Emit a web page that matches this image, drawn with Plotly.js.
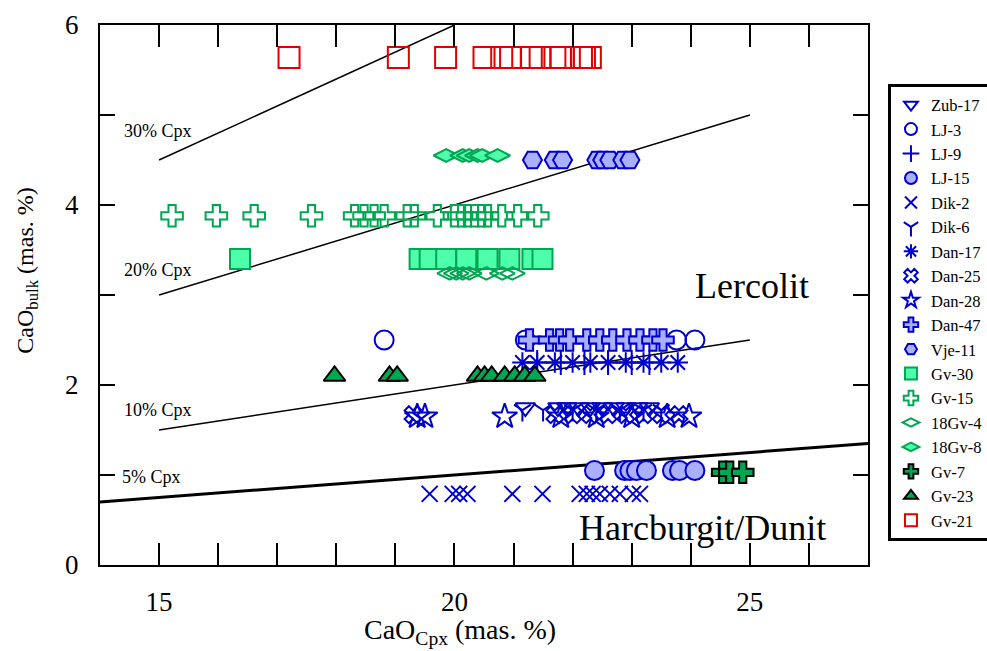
<!DOCTYPE html>
<html>
<head>
<meta charset="utf-8">
<script src="https://cdn.plot.ly/plotly-3.0.1.min.js"></script>
<style>html,body{margin:0;padding:0;background:#fff;}#chart{width:987px;height:651px;}</style>
</head>
<body>
<div id="chart"></div>
<script>
// ---- data ----
const zub17_x = [21.2, 21.75, 21.9, 22.1, 22.3, 22.5, 22.7, 22.9, 23.1, 23.3];
const zub17_y = [1.75, 1.75, 1.75, 1.75, 1.75, 1.75, 1.75, 1.75, 1.75, 1.75];
const lj3_x = [18.81, 21.2, 23.76, 24.07];
const lj3_y = [2.5, 2.5, 2.5, 2.5];
const lj9_x = [21.4, 21.8, 22.2, 22.6, 23.0, 23.3];
const lj9_y = [2.25, 2.25, 2.25, 2.25, 2.25, 2.25];
const lj15_x = [22.37, 22.88, 22.97, 23.08, 23.25, 23.69, 23.81, 24.07];
const lj15_y = [1.05, 1.05, 1.05, 1.05, 1.05, 1.05, 1.05, 1.05];
const dik2_x = [19.58, 19.97, 20.08, 20.22, 20.98, 21.49, 22.12, 22.24, 22.34, 22.46, 22.63, 22.8, 23.02, 23.14];
const dik2_y = [0.79, 0.79, 0.79, 0.79, 0.79, 0.79, 0.79, 0.79, 0.79, 0.79, 0.79, 0.79, 0.79, 0.79];
const dik6_x = [21.15, 21.5, 22.0, 22.4, 22.8, 23.2, 23.5];
const dik6_y = [1.72, 1.72, 1.72, 1.72, 1.72, 1.72, 1.72];
const dan17_x = [21.15, 21.4, 21.7, 22.0, 22.3, 22.6, 22.9, 23.2, 23.5, 23.78];
const dan17_y = [2.25, 2.25, 2.25, 2.25, 2.25, 2.25, 2.25, 2.25, 2.25, 2.25];
const dan25_x = [19.3, 21.7, 22.0, 22.3, 22.6, 22.9, 23.2, 23.5, 23.8];
const dan25_y = [1.67, 1.67, 1.67, 1.67, 1.67, 1.67, 1.67, 1.67, 1.67];
const dan28_x = [19.37, 19.5, 20.85, 21.8, 22.4, 23.0, 23.6, 23.97];
const dan28_y = [1.65, 1.65, 1.65, 1.65, 1.65, 1.65, 1.65, 1.65];
const dan47_x = [21.27, 21.61, 21.78, 21.95, 22.24, 22.46, 22.68, 22.92, 23.14, 23.36, 23.53];
const dan47_y = [2.5, 2.5, 2.5, 2.5, 2.5, 2.5, 2.5, 2.5, 2.5, 2.5, 2.5];
const vje11_x = [21.32, 21.69, 21.83, 22.41, 22.51, 22.63, 22.85, 22.97];
const vje11_y = [4.5, 4.5, 4.5, 4.5, 4.5, 4.5, 4.5, 4.5];
const gv30_x = [16.37, 19.41, 19.58, 19.86, 20.2, 20.56, 20.93, 21.32, 21.49];
const gv30_y = [3.4, 3.4, 3.4, 3.4, 3.4, 3.4, 3.4, 3.4, 3.4];
const gv15_x = [15.22, 15.97, 16.61, 17.58, 18.31, 18.47, 18.64, 18.81, 19.2, 19.32, 19.71, 20.0, 20.12, 20.22, 20.34, 20.46, 20.56, 20.8, 21.07, 21.41];
const gv15_y = [3.88, 3.88, 3.88, 3.88, 3.88, 3.88, 3.88, 3.88, 3.88, 3.88, 3.88, 3.88, 3.88, 3.88, 3.88, 3.88, 3.88, 3.88, 3.88, 3.88];
const gv18_4_x = [19.92, 20.03, 20.14, 20.25, 20.54, 20.81, 20.98];
const gv18_4_y = [3.24, 3.24, 3.24, 3.24, 3.24, 3.24, 3.24];
const gv18_8_x = [19.86, 20.14, 20.25, 20.39, 20.47, 20.73];
const gv18_8_y = [4.55, 4.55, 4.55, 4.55, 4.55, 4.55];
const gv7_x = [24.54, 24.66, 24.88];
const gv7_y = [1.03, 1.03, 1.03];
const gv23_x = [17.97, 18.9, 19.03, 20.39, 20.51, 20.63, 20.85, 21.02, 21.19, 21.36];
const gv23_y = [2.1, 2.1, 2.1, 2.1, 2.1, 2.1, 2.1, 2.1, 2.1, 2.1];
const gv21_x = [17.2, 19.05, 19.85, 20.5, 20.8, 20.95, 21.3, 21.45, 21.7, 21.8, 22.15, 22.2, 22.3];
const gv21_y = [5.64, 5.64, 5.64, 5.64, 5.64, 5.64, 5.64, 5.64, 5.64, 5.64, 5.64, 5.64, 5.64];

// reference lines (Cpx proportions)
const line30_x = [15, 20];  const line30_y = [4.5, 6];
const line20_x = [15, 25];  const line20_y = [3, 5];
const line10_x = [15, 25];  const line10_y = [1.5, 2.5];
const line5_x = [14, 27];   const line5_y = [0.7, 1.35];

const xTickVals = [14,15,16,17,18,19,20,21,22,23,24,25,26,27];
const xTickText = [' ','15',' ',' ',' ',' ','20',' ',' ',' ',' ','25',' ',' '];
const yTickVals = [0,1,2,3,4,5,6];
const yTickText = ['0',' ','2',' ','4',' ','6'];
const xTitle = 'CaO<sub>Cpx</sub> (mas. %)';
const yTitle = 'CaO<sub>bulk</sub> (mas. %)';

// ---- styles ----
const BLUE = '#0000cc', LBLUE = '#aab0ff', GREEN = '#00a651', MINT = '#4dffaa', RED = '#e00000';
const FONT = 'Liberation Serif';

function pts(name, x, y, symbol, size, fill, lineColor, lw) {
  return {type:'scatter', mode:'markers', name:name, x:x, y:y,
    marker:{symbol:symbol, size:size, color:fill, line:{color:lineColor, width:lw}}};
}
function refLine(x, y, w) {
  return {type:'scatter', mode:'lines', x:x, y:y, showlegend:false, hoverinfo:'skip',
    line:{color:'black', width:w}};
}

const traces = [
  refLine(line30_x, line30_y, 1.5),
  refLine(line20_x, line20_y, 1.5),
  refLine(line10_x, line10_y, 1.5),
  refLine(line5_x, line5_y, 3),
  pts('Zub-17', zub17_x, zub17_y, 'triangle-down-open', 17, BLUE, BLUE, 2),
  pts('LJ-3', lj3_x, lj3_y, 'circle-open', 19, BLUE, BLUE, 2),
  pts('LJ-9', lj9_x, lj9_y, 'cross-thin-open', 18, BLUE, BLUE, 2),
  pts('LJ-15', lj15_x, lj15_y, 'circle', 19, LBLUE, BLUE, 2),
  pts('Dik-2', dik2_x, dik2_y, 'x-thin-open', 16, BLUE, BLUE, 2),
  pts('Dik-6', dik6_x, dik6_y, 'y-down-open', 14, BLUE, BLUE, 2),
  pts('Dan-17', dan17_x, dan17_y, 'asterisk-open', 17, BLUE, BLUE, 2),
  pts('Dan-25', dan25_x, dan25_y, 'x-open', 15, BLUE, BLUE, 2),
  pts('Dan-28', dan28_x, dan28_y, 'star-open', 19, BLUE, BLUE, 2),
  pts('Dan-47', dan47_x, dan47_y, 'cross', 18, LBLUE, BLUE, 2),
  pts('Vje-11', vje11_x, vje11_y, 'hexagon2', 19, LBLUE, BLUE, 2),
  pts('Gv-30', gv30_x, gv30_y, 'square', 20, MINT, GREEN, 2),
  pts('Gv-15', gv15_x, gv15_y, 'cross-open', 18, GREEN, GREEN, 2),
  pts('18Gv-4', gv18_4_x, gv18_4_y, 'diamond-wide-open', 18, GREEN, GREEN, 2),
  pts('18Gv-8', gv18_8_x, gv18_8_y, 'diamond-wide', 18, MINT, GREEN, 2),
  pts('Gv-7', gv7_x, gv7_y, 'cross', 18, GREEN, '#000000', 2),
  pts('Gv-23', gv23_x, gv23_y, 'triangle-up', 19, GREEN, '#000000', 2),
  pts('Gv-21', gv21_x, gv21_y, 'square-open', 21, RED, RED, 2)
];

const layout = {
  width:987, height:651,
  margin:{l:100, r:119, t:25, b:86, autoexpand:false},
  paper_bgcolor:'#fff', plot_bgcolor:'#fff',
  font:{family:FONT, color:'#000'},
  showlegend:true,
  legend:{x:1.026, y:0.89, xanchor:'left', yanchor:'top', bordercolor:'#000', borderwidth:3,
    bgcolor:'#fff', font:{family:FONT, size:16.5, color:'#000'}, tracegroupgap:0, itemsizing:'constant',
    itemwidth:30},
  xaxis:{range:[14,27], tickmode:'array', tickvals:xTickVals, ticktext:xTickText,
    ticks:'inside', ticklen:22, tickwidth:2, tickcolor:'#000', showgrid:false, zeroline:false,
    showline:true, linewidth:2, linecolor:'#000', mirror:'ticks',
    tickfont:{family:FONT, size:27}, ticklabelstandoff:12},
  yaxis:{range:[0,6], tickmode:'array', tickvals:yTickVals, ticktext:yTickText,
    ticks:'inside', ticklen:15, tickwidth:2, tickcolor:'#000', showgrid:false, zeroline:false,
    showline:true, linewidth:2, linecolor:'#000', mirror:'ticks',
    tickfont:{family:FONT, size:27}, ticklabelstandoff:14},
  annotations:[
    {xref:'paper', yref:'paper', x:0.469, y:-0.124, yanchor:'middle', text:xTitle, showarrow:false,
      font:{family:FONT, size:28}},
    {xref:'paper', yref:'paper', x:-0.095, y:0.545, xanchor:'center', text:yTitle, textangle:-90,
      showarrow:false, font:{family:FONT, size:24}},
    {x:14.98, y:4.82, text:'30% Cpx', showarrow:false, font:{family:FONT, size:18}},
    {x:14.98, y:3.28, text:'20% Cpx', showarrow:false, font:{family:FONT, size:18}},
    {x:14.98, y:1.72, text:'10% Cpx', showarrow:false, font:{family:FONT, size:18}},
    {x:14.88, y:0.98, text:'5% Cpx', showarrow:false, font:{family:FONT, size:18}},
    {x:25.03, y:3.1, text:'Lercolit', showarrow:false, font:{family:FONT, size:36}},
    {x:24.2, y:0.41, text:'Harcburgit/Dunit', showarrow:false, font:{family:FONT, size:36}}
  ]
};

Plotly.newPlot('chart', traces, layout, {displayModeBar:false, staticPlot:true});
</script>
</body>
</html>
